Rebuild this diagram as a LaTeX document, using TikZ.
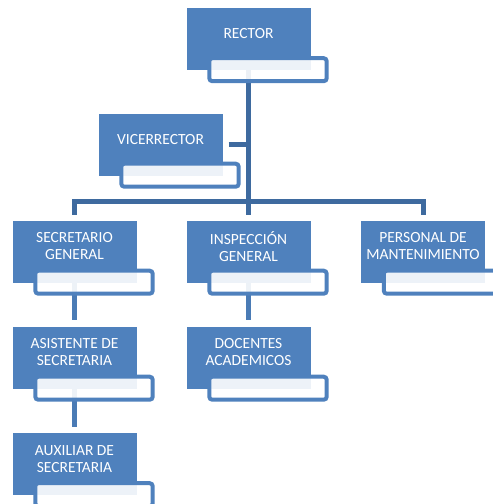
\documentclass[tikz,border=0pt]{standalone}
\usepackage{fontspec}
\setmainfont{Carlito}
\definecolor{boxblue}{HTML}{4F81BD}
\definecolor{conndark}{HTML}{3E6A9F}
\definecolor{connlight}{HTML}{4A7BB5}
\begin{document}
\begin{tikzpicture}[x=1pt,y=-1pt,
  mainbox/.style={rectangle, fill=boxblue, draw=none, minimum width=124pt, minimum height=62pt, inner sep=0pt},
  txt/.style={text=white, font=\fontsize{15.5}{17}\selectfont, align=center, inner sep=0pt},
  subbox/.style={draw=boxblue, line width=4pt, rounded corners=3pt, fill=white, fill opacity=0.9, draw opacity=1},
  conn/.style={draw=conndark, line width=5pt},
  conn2/.style={draw=connlight, line width=5pt}
]
\useasboundingbox (0,0) rectangle (493,504);
\begin{scope}
\clip (0,0) rectangle (493,504);
% main boxes
\node[mainbox] (rector) at (248.5,39) {};
\node[mainbox] (vice) at (160.5,144.5) {};
\node[mainbox] (sec) at (74.5,251.5) {};
\node[mainbox] (ins) at (248.5,251.5) {};
\node[mainbox] (per) at (423,251.5) {};
\node[mainbox] (asis) at (74.5,357.5) {};
\node[mainbox] (doc) at (248.5,357.5) {};
\node[mainbox] (aux) at (74.5,464) {};
% connectors
\coordinate (bus) at (248.5,201.5);
\draw[conn] (rector.south) -- (bus);
\draw[conn] ([xshift=6pt]vice.east) -- (vice.east -| bus);
\draw[conn, shorten >=5pt] (bus) -| (sec.north);
\draw[conn, shorten >=5pt] (bus) -| (per.north);
\draw[conn, shorten >=5pt] (bus) -- (ins.north);
\draw[conn2, shorten >=6pt] (sec.south) -- (asis.north);
\draw[conn2, shorten >=6pt] (asis.south) -- (aux.north);
\draw[conn2, shorten >=6pt] (ins.south) -- (doc.north);
% secondary boxes
\foreach \n in {rector,vice,sec,ins,per,asis,doc,aux}{
  \draw[subbox] ([xshift=23pt,yshift=12pt]\n.south west) rectangle ([xshift=16pt,yshift=-11pt]\n.south east);
}
% texts
\node[txt] (trector) at ([yshift=5pt]rector.center) {RECTOR};
\node[txt] (tvice) at ([yshift=5pt]vice.center) {VICERRECTOR};
\node[txt] (tsec) at ([yshift=5pt]sec.center) {SECRETARIO\\GENERAL};
\node[txt] (tins) at ([yshift=5pt]ins.center) {INSPECCIÓN\\GENERAL};
\node[txt] (tper) at ([yshift=5pt]per.center) {PERSONAL DE\\MANTENIMIENTO};
\node[txt] (tasis) at ([yshift=5pt]asis.center) {ASISTENTE DE\\SECRETARIA};
\node[txt] (tdoc) at ([yshift=5pt]doc.center) {DOCENTES\\ACADEMICOS};
\node[txt] (taux) at ([yshift=5pt]aux.center) {AUXILIAR DE\\SECRETARIA};
\end{scope}
\end{tikzpicture}
\end{document}
